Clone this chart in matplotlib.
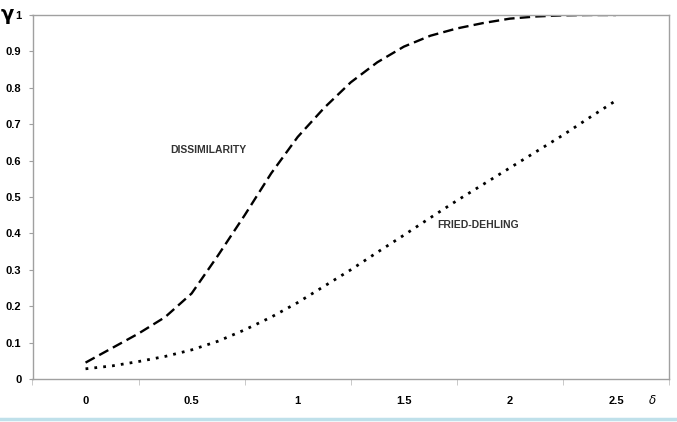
import matplotlib
matplotlib.use("Agg")
import matplotlib.pyplot as plt
from matplotlib.lines import Line2D
import numpy as np

# delta values
delta = [0, 0.125, 0.25, 0.375, 0.5, 0.625, 0.75, 0.875, 1.0, 1.125, 1.25,
         1.375, 1.5, 1.625, 1.75, 1.875, 2.0, 2.125, 2.25, 2.375, 2.5]

dissimilarity = [0.045, 0.085, 0.125, 0.17, 0.235, 0.34, 0.45, 0.565, 0.665,
                 0.745, 0.815, 0.87, 0.913, 0.943, 0.963, 0.978, 0.99, 0.996,
                 0.999, 1.0, 1.0]

fried_dehling = [0.028, 0.036, 0.048, 0.062, 0.08, 0.104, 0.135, 0.17, 0.21,
                 0.255, 0.3, 0.348, 0.395, 0.443, 0.49, 0.535, 0.58, 0.625,
                 0.67, 0.718, 0.765]

x_ticks = [0, 0.5, 1, 1.5, 2, 2.5]
x_tick_labels = ["0", "0.5", "1", "1.5", "2", "2.5"]
y_ticks = [0, 0.1, 0.2, 0.3, 0.4, 0.5, 0.6, 0.7, 0.8, 0.9, 1.0]
y_tick_labels = ["0", "0.1", "0.2", "0.3", "0.4", "0.5", "0.6", "0.7",
                 "0.8", "0.9", "1"]

plt.rcParams["font.family"] = ["Liberation Sans", "DejaVu Sans"]

fig = plt.figure(figsize=(6.77, 4.22), dpi=100)
ax = fig.add_axes([32.5 / 677, 43 / 422, 636.5 / 677, 364 / 422])

ax.plot(delta, dissimilarity, color="black", lw=1.7,
        dashes=(4.4, 2.2), dash_capstyle="butt")
ax.plot(delta, fried_dehling, color="black", lw=2.0,
        dashes=(1.0, 2.2), dash_capstyle="butt")

ax.set_xlim(-0.25, 2.75)
ax.set_ylim(0, 1)

ax.set_xticks(x_ticks)
ax.set_xticklabels(x_tick_labels, fontsize=8, fontweight="bold")
ax.set_xticks(np.arange(-0.25, 2.8, 0.5), minor=True)
ax.tick_params(axis="x", which="major", length=0, pad=12)
ax.tick_params(axis="x", which="minor", length=4, color="#c0c0c0")

ax.set_yticks(y_ticks)
ax.set_yticklabels(y_tick_labels, fontsize=8, fontweight="bold")
ax.tick_params(axis="y", length=3, color="#a0a0a0", pad=5)

for side in ["left", "right", "top", "bottom"]:
    ax.spines[side].set_color("#a0a0a0")
    ax.spines[side].set_linewidth(1.0)

ax.text(0.58, 0.63, "DISSIMILARITY", fontsize=7.5, fontweight="bold",
        color="#333333", ha="center", va="center")
ax.text(1.85, 0.423, "FRIED-DEHLING", fontsize=7.5, fontweight="bold",
        color="#333333", ha="center", va="center")

fig.text(7 / 677, 1 - 15 / 422, "γ", fontsize=14, fontweight="bold",
         ha="center", va="center", family=["DejaVu Sans"])
fig.text(652 / 677, 1 - 401 / 422, "δ", fontsize=8.5, ha="center",
         va="center", style="italic", family=["DejaVu Sans"])

fig.add_artist(Line2D([0, 1], [1 - 419 / 422, 1 - 419 / 422],
                      transform=fig.transFigure, color="#bfe0ea", lw=2.5))

fig.savefig("out.png", dpi=100)
